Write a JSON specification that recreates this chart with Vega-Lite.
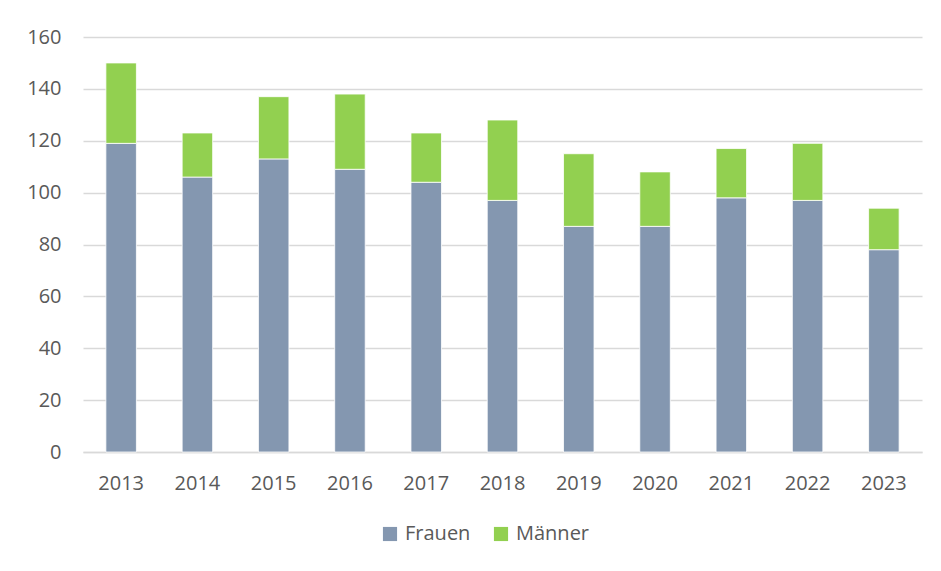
{
  "$schema": "https://vega.github.io/schema/vega-lite/v6.json",
  "width": 839,
  "height": 415,
  "autosize": {"type": "none"},
  "padding": {"left": 83, "top": 37, "right": 19, "bottom": 119},
  "background": "white",
  "config": {
    "view": {"stroke": null},
    "font": "Open Sans",
    "axis": {"labelFont": "Open Sans", "labelColor": "#595959", "labelFontSize": 20},
    "legend": {"labelFont": "Open Sans", "labelColor": "#595959", "labelFontSize": 20}
  },
  "data": {
    "values": [
      {"Jahr": "2013", "Geschlecht": "Frauen", "Anzahl": 119, "o": 1},
      {"Jahr": "2013", "Geschlecht": "Männer", "Anzahl": 31, "o": 2},
      {"Jahr": "2014", "Geschlecht": "Frauen", "Anzahl": 106, "o": 1},
      {"Jahr": "2014", "Geschlecht": "Männer", "Anzahl": 17, "o": 2},
      {"Jahr": "2015", "Geschlecht": "Frauen", "Anzahl": 113, "o": 1},
      {"Jahr": "2015", "Geschlecht": "Männer", "Anzahl": 24, "o": 2},
      {"Jahr": "2016", "Geschlecht": "Frauen", "Anzahl": 109, "o": 1},
      {"Jahr": "2016", "Geschlecht": "Männer", "Anzahl": 29, "o": 2},
      {"Jahr": "2017", "Geschlecht": "Frauen", "Anzahl": 104, "o": 1},
      {"Jahr": "2017", "Geschlecht": "Männer", "Anzahl": 19, "o": 2},
      {"Jahr": "2018", "Geschlecht": "Frauen", "Anzahl": 97, "o": 1},
      {"Jahr": "2018", "Geschlecht": "Männer", "Anzahl": 31, "o": 2},
      {"Jahr": "2019", "Geschlecht": "Frauen", "Anzahl": 87, "o": 1},
      {"Jahr": "2019", "Geschlecht": "Männer", "Anzahl": 28, "o": 2},
      {"Jahr": "2020", "Geschlecht": "Frauen", "Anzahl": 87, "o": 1},
      {"Jahr": "2020", "Geschlecht": "Männer", "Anzahl": 21, "o": 2},
      {"Jahr": "2021", "Geschlecht": "Frauen", "Anzahl": 98, "o": 1},
      {"Jahr": "2021", "Geschlecht": "Männer", "Anzahl": 19, "o": 2},
      {"Jahr": "2022", "Geschlecht": "Frauen", "Anzahl": 97, "o": 1},
      {"Jahr": "2022", "Geschlecht": "Männer", "Anzahl": 22, "o": 2},
      {"Jahr": "2023", "Geschlecht": "Frauen", "Anzahl": 78, "o": 1},
      {"Jahr": "2023", "Geschlecht": "Männer", "Anzahl": 16, "o": 2}
    ]
  },
  "mark": {"type": "bar", "stroke": "white", "strokeWidth": 0.8},
  "encoding": {
    "x": {
      "field": "Jahr",
      "type": "ordinal",
      "title": null,
      "scale": {"paddingInner": 0.6, "paddingOuter": 0.3},
      "axis": {
        "labelAngle": 0,
        "ticks": false,
        "domainColor": "#D9D9D9",
        "domainWidth": 1.5,
        "labelPadding": 21
      }
    },
    "y": {
      "field": "Anzahl",
      "type": "quantitative",
      "stack": "zero",
      "title": null,
      "scale": {"domain": [0, 160], "nice": false},
      "axis": {
        "values": [0, 20, 40, 60, 80, 100, 120, 140, 160],
        "domain": false,
        "ticks": false,
        "gridColor": "#D9D9D9",
        "gridWidth": 1.5,
        "labelPadding": 22
      }
    },
    "color": {
      "field": "Geschlecht",
      "type": "nominal",
      "scale": {"domain": ["Frauen", "Männer"], "range": ["#8497B0", "#92D050"]},
      "legend": {
        "title": null,
        "orient": "none",
        "direction": "horizontal",
        "legendX": 297,
        "legendY": 487,
        "symbolType": "square",
        "symbolSize": 200,
        "symbolStrokeWidth": 0,
        "columnPadding": 20,
        "labelOffset": 5
      }
    },
    "order": {"field": "o", "type": "quantitative"}
  }
}
